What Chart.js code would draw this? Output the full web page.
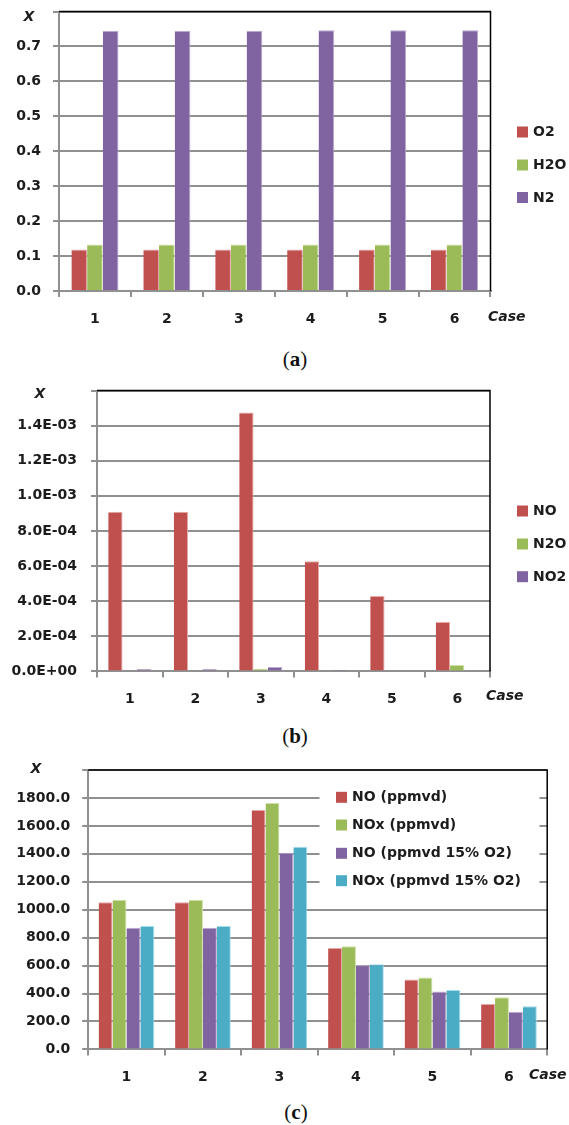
<!DOCTYPE html>
<html>
<head>
<meta charset="utf-8">
<script src="https://cdn.jsdelivr.net/npm/chart.js@4.4.1/dist/chart.umd.min.js"></script>
<style>
  html, body { margin: 0; padding: 0; background: #fff; }
  body { width: 569px; height: 1125px; position: relative; overflow: hidden; }
  canvas { position: absolute; left: 0; }
  .cap { position: absolute; font-family: "Liberation Serif", "DejaVu Serif", serif; font-size: 21px; color: #111;
         transform: translate(-50%, -50%); white-space: nowrap; line-height: 1; }
</style>
</head>
<body>
<canvas id="chartA" width="569" height="335" style="top:0px"></canvas>
<div class="cap" style="left:295px; top:359px">(<b>a</b>)</div>
<canvas id="chartB" width="569" height="345" style="top:370px"></canvas>
<div class="cap" style="left:295px; top:736px">(<b>b</b>)</div>
<canvas id="chartC" width="569" height="345" style="top:745px"></canvas>
<div class="cap" style="left:296px; top:1112px">(<b>c</b>)</div>

<script>
// ---- data ----
const cases = ['1', '2', '3', '4', '5', '6'];

// (a) major species mole fractions
const o2  = [0.119, 0.119, 0.119, 0.119, 0.119, 0.119];
const h2o = [0.133, 0.133, 0.133, 0.133, 0.133, 0.133];
const n2  = [0.745, 0.745, 0.745, 0.746, 0.746, 0.746];
const ticksA = ['0.0', '0.1', '0.2', '0.3', '0.4', '0.5', '0.6', '0.7'];

// (b) nitrogen oxide mole fractions
const no  = [9.10e-4, 9.10e-4, 1.474e-3, 6.27e-4, 4.30e-4, 2.82e-4];
const n2o = [0, 0, 1.5e-5, 0, 0, 3.6e-5];
const no2 = [1.4e-5, 1.4e-5, 2.5e-5, 1.0e-5, 5e-6, 0];
const ticksB = ['0.0E+00', '2.0E-04', '4.0E-04', '6.0E-04', '8.0E-04', '1.0E-03', '1.2E-03', '1.4E-03'];

// (c) emissions in ppm
const noPpm     = [1054, 1054, 1714, 725, 500, 325];
const noxPpm    = [1071, 1071, 1764, 739, 514, 373];
const noPpm15   = [870, 870, 1408, 603, 414, 268];
const noxPpm15  = [884, 884, 1451, 610, 426, 309];
const ticksC = ['0.0', '200.0', '400.0', '600.0', '800.0', '1000.0', '1200.0', '1400.0', '1600.0', '1800.0'];

// ---- styling ----
const RED = '#C0504D', GREEN = '#9BBB59', PURPLE = '#8064A2', CYAN = '#4BACC6';
const EDGE = { [RED]: '#E6A9A7', [GREEN]: '#CFE3A9', [PURPLE]: '#BBA9D2', [CYAN]: '#A6DBEA' };
const GRID = '#909090';
const FONT = { family: '"DejaVu Sans", sans-serif', size: 14, weight: 'bold' };
const TEXT = '#1c1c1c';

function series(label, data, color) {
  return {
    label, data, backgroundColor: color, borderColor: EDGE[color],
    borderWidth: { top: 1, right: 1, left: 0, bottom: 0 }, borderSkipped: 'bottom',
    barPercentage: 1.0
  };
}

// frame, axis captions and side legend
const decor = {
  id: 'decor',
  afterDraw(chart, args, o) {
    const { ctx, chartArea: a } = chart;
    ctx.save();
    if (o.box) {
      ctx.fillStyle = '#fff';
      ctx.fillRect(o.box.x, o.box.y, o.box.w, o.box.h);
    }
    ctx.strokeStyle = '#000';
    ctx.lineWidth = 1.5;
    ctx.beginPath();
    ctx.moveTo(a.left, a.top);
    ctx.lineTo(a.right, a.top);
    ctx.lineTo(a.right, a.bottom);
    ctx.stroke();

    ctx.fillStyle = TEXT;
    ctx.font = 'italic bold 14px "DejaVu Sans", sans-serif';
    ctx.textBaseline = 'middle';
    ctx.textAlign = 'center';
    ctx.fillText('X', o.yTitle.x, o.yTitle.y);
    ctx.textAlign = 'left';
    ctx.fillText('Case', o.xTitle.x, o.xTitle.y);

    ctx.font = 'bold 14px "DejaVu Sans", sans-serif';
    chart.data.datasets.forEach((ds, i) => {
      const y = o.legend.rows[i];
      ctx.fillStyle = ds.backgroundColor;
      ctx.fillRect(o.legend.sx, y - 5.5, 11, 11);
      ctx.fillStyle = TEXT;
      ctx.fillText(ds.label, o.legend.tx, y + 0.5);
    });
    ctx.restore();
  }
};

function makeChart(id, datasets, cfg) {
  const H = document.getElementById(id).height;
  return new Chart(document.getElementById(id), {
    type: 'bar',
    data: { labels: cases, datasets },
    options: {
      responsive: false,
      animation: false,
      events: [],
      layout: { padding: { left: 0, top: cfg.top, right: 569 - cfg.right, bottom: 0 } },
      datasets: { bar: { categoryPercentage: cfg.catPct } },
      plugins: {
        legend: { display: false },
        tooltip: { enabled: false },
        decor: cfg.decor
      },
      scales: {
        x: {
          afterFit: s => { s.height = H - cfg.bottom; s.paddingLeft = 0; s.paddingRight = 0; },
          grid: { offset: true, drawOnChartArea: false, drawTicks: true, tickLength: 6, color: GRID, lineWidth: 2 },
          border: { display: true, color: GRID, width: 2 },
          ticks: { font: FONT, color: TEXT, padding: 14, maxRotation: 0 }
        },
        y: {
          min: 0, max: cfg.max,
          afterFit: s => { s.width = cfg.left; s.paddingTop = 0; s.paddingBottom = 0; },
          afterBuildTicks: s => { s.ticks = cfg.labels.concat(['']).map((_, i) => ({ value: i * cfg.step })); },
          grid: { color: GRID, lineWidth: 2, drawTicks: true, tickLength: 6 },
          border: { display: true, color: GRID, width: 2 },
          ticks: {
            font: FONT, color: TEXT, padding: cfg.tickPad,
            callback: (v, i) => cfg.labels[i] !== undefined ? cfg.labels[i] : ''
          }
        }
      }
    },
    plugins: [decor]
  });
}

makeChart('chartA', [
  series('O2', o2, RED),
  series('H2O', h2o, GREEN),
  series('N2', n2, PURPLE)
], {
  top: 11.5, bottom: 291, left: 59, right: 490.5, max: 0.8, step: 0.1, labels: ticksA,
  tickPad: 12, catPct: 0.655,
  decor: {
    yTitle: { x: 29, y: 17 }, xTitle: { x: 488, y: 317 },
    legend: { sx: 517, tx: 533, rows: [132, 165, 197.5] }
  }
});

makeChart('chartB', [
  series('NO', no, RED),
  series('N2O', n2o, GREEN),
  series('NO2', no2, PURPLE)
], {
  top: 20.5, bottom: 301.4, left: 97, right: 490, max: 0.0016, step: 0.0002, labels: ticksB,
  tickPad: 14, catPct: 0.657,
  decor: {
    yTitle: { x: 40, y: 24 }, xTitle: { x: 486, y: 326 },
    legend: { sx: 517, tx: 533, rows: [141, 174, 206.7] }
  }
});

makeChart('chartC', [
  series('NO (ppmvd)', noPpm, RED),
  series('NOx (ppmvd)', noxPpm, GREEN),
  series('NO (ppmvd 15% O2)', noPpm15, PURPLE),
  series('NOx (ppmvd 15% O2)', noxPpm15, CYAN)
], {
  top: 25, bottom: 304.4, left: 88.2, right: 547.2, max: 2000, step: 200, labels: ticksC,
  tickPad: 12, catPct: 0.728,
  decor: {
    yTitle: { x: 36, y: 24 }, xTitle: { x: 529, y: 330 },
    legend: { sx: 336, tx: 352, rows: [52.3, 80, 108.3, 135.7] },
    box: { x: 319.5, y: 36, w: 220, h: 115 }
  }
});
</script>
</body>
</html>
